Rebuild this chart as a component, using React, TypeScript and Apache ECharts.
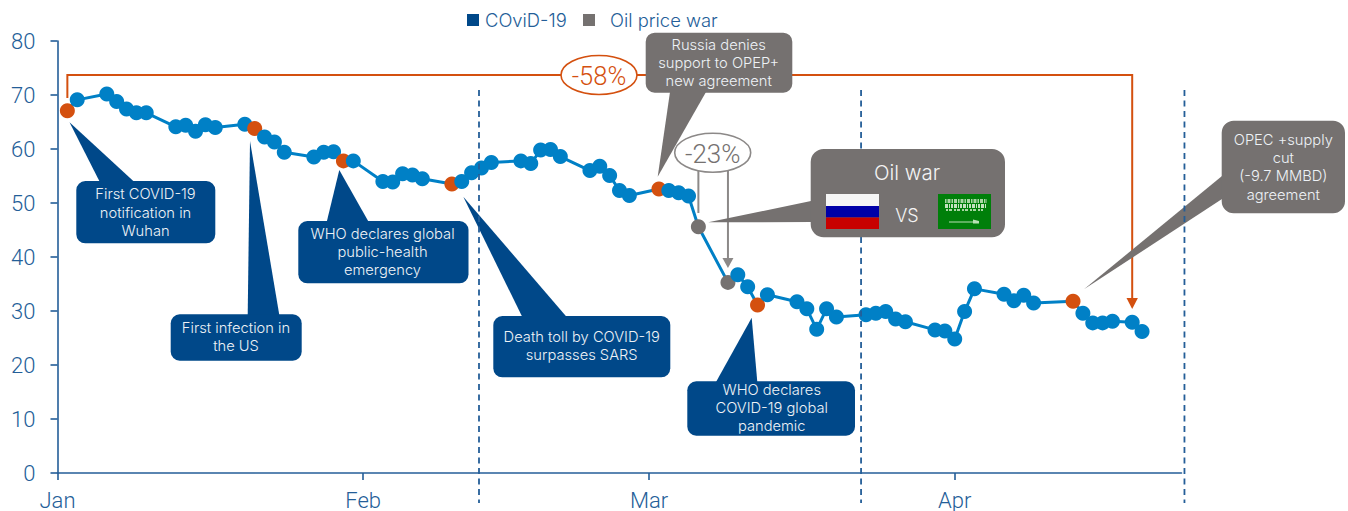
import React, { useEffect, useRef } from "react";
import * as echarts from "echarts";

const monthStarts = [0, 31, 60, 91];
const monthLabels = ["Jan", "Feb", "Mar", "Apr"];
const yTicks = [0, 10, 20, 30, 40, 50, 60, 70, 80];

// Days since 1 January 2020
const days = [
  1, 2, 5, 6, 7, 8, 9, 12, 13, 14, 15, 16, 19, 20, 21, 22, 23, 26, 27, 28, 29, 30,
  33, 34, 35, 36, 37, 40, 41, 42, 43, 44, 47, 48, 49, 50, 51, 54, 55, 56, 57, 58,
  61, 62, 63, 64, 65, 68, 69, 70, 71, 72, 75, 76, 77, 78, 79, 82, 83, 84, 85, 86,
  89, 90, 91, 92, 93, 96, 97, 98, 99, 103, 104, 105, 106, 107, 109, 110,
];
const prices = [
  67.1, 69.1, 70.2, 68.8, 67.4, 66.7, 66.7, 64.1, 64.4, 63.3, 64.5, 64.0, 64.6, 63.8, 62.2, 61.3, 59.4, 58.5, 59.4, 59.5, 57.8, 57.8,
  54.0, 53.9, 55.4, 55.2, 54.5, 53.5, 54.0, 55.6, 56.5, 57.5, 57.8, 57.3, 59.8, 59.9, 58.6, 56.0, 56.8, 55.1, 52.3, 51.4,
  52.6, 52.3, 51.9, 51.3, 45.6, 35.3, 36.7, 34.5, 31.1, 33.0, 31.7, 30.4, 26.6, 30.4, 28.9, 29.3, 29.6, 29.9, 28.5, 28.0,
  26.5, 26.3, 24.8, 29.9, 34.1, 33.1, 31.9, 32.9, 31.5, 31.8, 29.6, 27.8, 27.8, 28.1, 27.9, 26.2,
];
const covidDays = [1, 20, 29, 40, 71];
const covidOilDays = [61, 103];
const oilDays = [65, 68];
const dividerDays = [42.75, 81.5, 114.3];
const bracketStartDay = 1;
const bracketEndDay = 109;
const gapStartDay = 65;
const gapEndDay = 68;

const NAVY = "#004889";
const GREY = "#757170";
const ORANGE = "#D4500F";
const LINE = "#0080C6";
const AXIS = "#245E98";
const FONT = "Roboto, 'Open Sans', sans-serif";
const NOTE = "Inter, Roboto, sans-serif";

function callout(box: number[], tail: number[][], lines: string[], center: number[], color: string, z: number, r = 9, size = 14.7) {
  return [
    { type: "polygon", z, silent: true, shape: { points: tail }, style: { fill: color } },
    { type: "rect", z, silent: true, shape: { x: box[0], y: box[1], width: box[2] - box[0], height: box[3] - box[1], r }, style: { fill: color } },
    {
      type: "text", z: z + 1, silent: true, x: center[0], y: center[1],
      style: { text: lines.join("\n"), fill: "#EEF2F6", fontFamily: NOTE, fontSize: size, fontWeight: 300, lineHeight: 18.3, align: "center", verticalAlign: "middle" },
    },
  ];
}

export default function App() {
  const ref = useRef<HTMLDivElement>(null);
  useEffect(() => {
    document.body.style.margin = "0";
    document.body.style.overflow = "hidden";
    const chart = echarts.init(ref.current!, undefined, { renderer: "svg" });
    const colorFor = (d: number) =>
      covidDays.includes(d) || covidOilDays.includes(d) ? ORANGE : oilDays.includes(d) ? GREY : LINE;
    chart.setOption({
      animation: false,
      grid: { left: 57.5, top: 41, width: 1124, height: 432, containLabel: false, outerBoundsMode: "none" },
      legend: [
        {
          data: [{ name: "COviD-19", icon: "rect" }], left: 467, top: 11, padding: 0, itemWidth: 12, itemHeight: 12, itemGap: 0,
          textStyle: { color: AXIS, fontFamily: NOTE, fontWeight: 300, fontSize: 18.4, padding: [0, 0, 0, 1] }, selectedMode: false,
        },
        {
          data: [{ name: "Oil price war", icon: "rect" }], left: 583, top: 11, padding: 0, itemWidth: 12, itemHeight: 12, itemGap: 0,
          textStyle: { color: AXIS, fontFamily: NOTE, fontWeight: 300, fontSize: 18.4, padding: [0, 0, 0, 10] }, selectedMode: false,
        },
      ],
      xAxis: {
        type: "value", min: 0, max: 114, splitLine: { show: false },
        axisLine: { show: true, lineStyle: { color: AXIS, width: 1.6 } },
        axisTick: { show: true, length: 7, customValues: monthStarts, lineStyle: { color: AXIS, width: 1.6 } },
        axisLabel: {
          customValues: monthStarts, margin: 16, color: AXIS, fontFamily: FONT, fontWeight: 300, fontSize: 22,
          formatter: (v: number) => monthLabels[monthStarts.indexOf(v)] ?? "",
        },
      },
      yAxis: {
        type: "value", min: 0, max: 80, interval: 10, splitLine: { show: false },
        axisLine: { show: true, lineStyle: { color: AXIS, width: 1.6 } },
        axisTick: { show: true, length: 7, lineStyle: { color: AXIS, width: 1.6 } },
        axisLabel: { margin: 22, color: AXIS, fontFamily: FONT, fontWeight: 300, fontSize: 22, formatter: (v: number) => (yTicks.includes(v) ? String(v) : "") },
      },
      series: [
        {
          type: "line", name: "Oil price", showSymbol: true, symbol: "circle", symbolSize: 15, z: 2,
          lineStyle: { color: LINE, width: 3 },
          data: days.map((d, i) => ({ value: [d, prices[i]], itemStyle: { color: colorFor(d) } })),
        },
        { type: "scatter", name: "COviD-19", data: [], itemStyle: { color: NAVY, opacity: 1 } },
        { type: "scatter", name: "Oil price war", data: [], itemStyle: { color: GREY, opacity: 1 } },
      ],
    });

    const px = (d: number) => chart.convertToPixel({ xAxisIndex: 0 }, d) as number;
    const bx0 = px(bracketStartDay);
    const bx1 = px(bracketEndDay);
    const g0 = px(gapStartDay);
    const g1 = px(gapEndDay);
    const ly = 75;

    const graphic: any[] = [
      // dashed dividers
      ...dividerDays.map((d) => ({
        type: "line", z: 8, silent: true,
        shape: { x1: px(d), y1: 90, x2: px(d), y2: 503 },
        style: { stroke: AXIS, lineWidth: 1.8, lineDash: [6, 4.5] },
      })),
      // total fall bracket
      {
        type: "polyline", z: 3, silent: true,
        shape: { points: [[bx0, 98], [bx0, ly], [bx1, ly], [bx1, 300]] },
        style: { stroke: ORANGE, lineWidth: 2, fill: "none" },
      },
      { type: "polygon", z: 3, silent: true, shape: { points: [[bx1 - 5.7, 298], [bx1 + 5.7, 298], [bx1, 309]] }, style: { fill: ORANGE } },
      { type: "ellipse", z: 4, silent: true, shape: { cx: 599, cy: 75, rx: 38, ry: 19.5 }, style: { fill: "#fff", stroke: ORANGE, lineWidth: 1.6 } },
      { type: "text", z: 5, silent: true, x: 599, y: 76, style: { text: "-58%", fill: ORANGE, fontFamily: FONT, fontWeight: 300, fontSize: 25.5, align: "center", verticalAlign: "middle" } },
      // oil war gap
      { type: "line", z: 3, silent: true, shape: { x1: g0, y1: 170, x2: g0, y2: 213 }, style: { stroke: "#8C8988", lineWidth: 2 } },
      { type: "line", z: 3, silent: true, shape: { x1: g1, y1: 170, x2: g1, y2: 260 }, style: { stroke: "#8C8988", lineWidth: 2 } },
      { type: "polygon", z: 3, silent: true, shape: { points: [[g1 - 5.5, 258], [g1 + 5.5, 258], [g1, 268]] }, style: { fill: "#8C8988" } },
      { type: "ellipse", z: 4, silent: true, shape: { cx: 712.7, cy: 152.7, rx: 38, ry: 19.5 }, style: { fill: "#fff", stroke: "#8C8988", lineWidth: 1.6 } },
      { type: "text", z: 5, silent: true, x: 712.7, y: 153.5, style: { text: "-23%", fill: GREY, fontFamily: FONT, fontWeight: 300, fontSize: 26, align: "center", verticalAlign: "middle" } },
      // callouts
      ...callout([76.3, 181, 215.3, 243.3], [[69.5, 122.3], [99.3, 181], [133.3, 181]], ["First COVID-19", "notification in", "Wuhan"], [145.5, 212.5], NAVY, 6),
      ...callout([170.7, 314.3, 301.7, 360.7], [[250, 141], [247.7, 315], [279.3, 315]], ["First infection in", "the US"], [236, 337.2], NAVY, 6),
      ...callout([298.3, 221, 468.5, 283.3], [[339.3, 170], [326.7, 222], [368.7, 222]], ["WHO declares global", "public-health", "emergency"], [382.5, 252], NAVY, 6),
      ...callout([493.3, 316, 670.3, 377.3], [[463.3, 196.7], [522.3, 317], [566.7, 317]], ["Death toll by COVID-19", "surpasses SARS"], [581.7, 346.2], NAVY, 6),
      ...callout([687.3, 381.3, 855, 435.7], [[751.7, 317.7], [716, 382], [757.3, 382]], ["WHO declares", "COVID-19 global", "pandemic"], [771.7, 408.2], NAVY, 6),
      ...callout([645.7, 32.7, 792.3, 92.7], [[657.7, 176.7], [670, 92], [706, 92]], ["Russia denies", "support to OPEP+", "new agreement"], [718.7, 62.8], GREY, 6),
      ...callout([1221.7, 120.7, 1345, 213.3], [[1084, 289.3], [1222, 176], [1222, 199]], ["OPEC +supply", "cut", "(-9.7 MMBD)", "agreement"], [1283.3, 167.2], GREY, 6, 12),
      // oil war panel
      { type: "polygon", z: 9, silent: true, shape: { points: [[708.3, 222.3], [811, 201], [811, 222]] }, style: { fill: GREY } },
      { type: "rect", z: 9, silent: true, shape: { x: 810.7, y: 149, width: 194.3, height: 88.3, r: 13 }, style: { fill: GREY } },
      { type: "text", z: 10, silent: true, x: 907, y: 172.7, style: { text: "Oil war", fill: "#F4F4F4", fontFamily: NOTE, fontWeight: 300, fontSize: 20.5, align: "center", verticalAlign: "middle" } },
      { type: "text", z: 10, silent: true, x: 907, y: 215, style: { text: "VS", fill: "#F4F4F4", fontFamily: NOTE, fontWeight: 300, fontSize: 18, align: "center", verticalAlign: "middle" } },
      // Russian flag
      { type: "rect", z: 10, silent: true, shape: { x: 826, y: 194, width: 53, height: 12 }, style: { fill: "#F5F5F5" } },
      { type: "rect", z: 10, silent: true, shape: { x: 826, y: 206, width: 53, height: 11.5 }, style: { fill: "#0000A8" } },
      { type: "rect", z: 10, silent: true, shape: { x: 826, y: 217.5, width: 53, height: 11.5 }, style: { fill: "#C80000" } },
      // Saudi flag
      { type: "rect", z: 10, silent: true, shape: { x: 938, y: 194, width: 53, height: 35 }, style: { fill: "#007F0A" } },
      { type: "line", z: 11, silent: true, shape: { x1: 945, y1: 201, x2: 987, y2: 201 }, style: { stroke: "#A9D6A4", lineWidth: 4, lineDash: [1.5, 1, 3, 1] } },
      { type: "line", z: 11, silent: true, shape: { x1: 945, y1: 206, x2: 986, y2: 206 }, style: { stroke: "#C4E2C0", lineWidth: 4, lineDash: [3, 1, 1, 1, 2, 1] } },
      { type: "line", z: 11, silent: true, shape: { x1: 946, y1: 210, x2: 983, y2: 210 }, style: { stroke: "#A9D6A4", lineWidth: 2, lineDash: [2, 1, 3, 2] } },
      { type: "line", z: 11, silent: true, shape: { x1: 949, y1: 222, x2: 976, y2: 222 }, style: { stroke: "#B9E0B5", lineWidth: 1 } },
      { type: "polygon", z: 11, silent: true, shape: { points: [[973, 219.5], [979, 221], [979, 223.5], [973, 223.5]] }, style: { fill: "#B9E0B5" } },
    ];
    chart.setOption({ graphic: { elements: graphic } });
    return () => chart.dispose();
  }, []);
  return <div ref={ref} style={{ width: 1348, height: 511 }} />;
}
